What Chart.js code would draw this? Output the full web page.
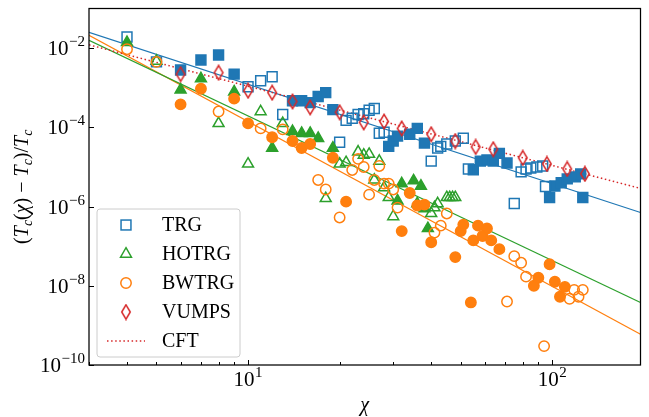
<!DOCTYPE html>
<html>
<head>
<meta charset="utf-8">
<script src="https://cdn.jsdelivr.net/npm/chart.js@4/dist/chart.umd.min.js"></script>
<style>
html,body{margin:0;padding:0;background:#fff;}
#wrap{width:649px;height:417px;}
</style>
</head>
<body>
<div id="wrap"><canvas id="c" width="649" height="417"></canvas></div>
<script>
// ---------------- data ----------------
const trgOpenChi = [4, 5, 10, 11, 12, 13, 20, 21, 22, 23, 24, 25, 26, 27, 28, 40, 42, 43, 45, 48, 51, 53, 75, 79, 82, 85, 89, 93, 95];
const trgOpenVal = [1.9e-2, 4.5e-3, 1.06e-3, 1.5e-3, 1.9e-3, 2.1e-4, 4.2e-5, 1.5e-4, 1.7e-4, 2.1e-4, 2.2e-4, 2.7e-4, 3.0e-4, 7.1e-5, 7.5e-5, 1.4e-5, 3.0e-5, 3.3e-5, 3.8e-5, 4.5e-5, 5.3e-5, 8.9e-6, 1.19e-6, 7.5e-6, 8.9e-6, 9.4e-6, 1.0e-5, 1.06e-5, 3.2e-6];

const trgFilledChi = [6, 7, 8, 9, 14, 15, 16, 17, 18, 19, 29, 30, 31, 34, 36, 38, 55, 58, 61, 64, 67, 71, 98, 102, 107, 112, 119, 124, 126];
const trgFilledVal = [2.8e-3, 5.0e-3, 6.7e-3, 2.2e-3, 4.7e-4, 4.7e-4, 4.2e-4, 6.0e-4, 7.5e-4, 2.8e-4, 3.3e-5, 4.5e-5, 6.0e-5, 6.7e-5, 9.4e-5, 4.0e-5, 8.5e-6, 1.4e-5, 1.5e-5, 1.4e-5, 2.2e-5, 1.26e-5, 1.7e-6, 3.3e-6, 4.0e-6, 5.0e-6, 5.6e-6, 6.7e-6, 1.7e-6];

const hotrgOpenChi = [5, 8, 10, 11, 13, 18, 20, 21, 23, 24, 25, 26, 27, 28, 29, 30, 40, 41, 42, 45, 46, 47, 48];
const hotrgOpenVal = [4.7e-3, 1.26e-4, 1.19e-5, 2.5e-4, 1.26e-4, 1.6e-6, 1.19e-5, 1.3e-5, 2.4e-5, 2.0e-5, 2.1e-5, 4.7e-6, 1.4e-5, 3.0e-6, 1.7e-6, 5.6e-7, 6.7e-7, 9.4e-7, 1.19e-6, 1.7e-6, 1.7e-6, 1.7e-6, 1.7e-6];

const hotrgFilledChi = [4, 6, 7, 9, 12, 14, 15, 16, 17, 19, 31, 32, 35, 36, 37, 38, 39];
const hotrgFilledVal = [1.4e-2, 8.9e-4, 1.7e-3, 7.9e-4, 3.0e-5, 7.9e-5, 7.1e-5, 7.1e-5, 5.3e-5, 3.0e-5, 1.4e-6, 3.8e-6, 4.5e-6, 1.19e-6, 3.3e-6, 8.9e-7, 2.8e-7];

const bwtrgOpenChi = [4, 5, 8, 11, 13, 17, 18, 20, 22, 23, 24, 25, 26, 27, 28, 29, 30, 31, 41, 43, 45, 71, 75, 79, 82, 94, 114, 118, 122, 126];
const bwtrgOpenVal = [9.4e-3, 4.5e-3, 2.5e-4, 9.4e-5, 8.9e-5, 4.7e-6, 2.7e-6, 5.3e-7, 8.4e-6, 1.6e-5, 1.0e-5, 2.0e-6, 4.7e-6, 1.06e-5, 3.8e-6, 3.8e-6, 2.7e-6, 9.4e-7, 2.2e-7, 3.3e-7, 6.7e-7, 4.0e-9, 5.6e-8, 3.8e-8, 1.7e-8, 3.0e-10, 4.7e-9, 7.9e-9, 5.3e-9, 7.9e-9];

const bwtrgFilledChi = [6, 7, 9, 10, 12, 14, 15, 16, 19, 21, 32, 34, 36, 38, 40, 48, 50, 51, 54, 55, 57, 59, 61, 63, 67, 87, 90, 98, 102, 106, 110];
const bwtrgFilledVal = [3.8e-4, 9.4e-4, 5.3e-4, 1.26e-4, 5.6e-5, 4.5e-5, 3.0e-5, 3.8e-5, 1.7e-5, 1.33e-6, 2.4e-7, 2.2e-6, 1.06e-6, 1.12e-6, 1.26e-7, 5.3e-8, 2.4e-7, 3.5e-7, 3.8e-9, 1.4e-7, 3.3e-7, 1.8e-7, 2.8e-7, 1.4e-7, 8.4e-8, 1.0e-8, 1.6e-8, 3.5e-8, 1.26e-8, 5.3e-9, 9.4e-9];

const vumpsChi = [6, 8, 10, 12, 14, 16, 20, 24, 28, 32, 40, 48, 56, 64, 80, 96, 112, 128];
const vumpsVal = [2.2e-3, 2.4e-3, 8.4e-4, 7.5e-4, 4.5e-4, 3.2e-4, 2.4e-4, 1.33e-4, 1.4e-4, 9.4e-5, 6.7e-5, 4.5e-5, 3.2e-5, 2.8e-5, 1.7e-5, 1.19e-5, 8.9e-6, 6.7e-6];

// fitted power laws (end points of straight lines in log-log)
const fitChi   = [3, 195];
const trgFit   = [2.5e-2, 7.1e-7];
const hotrgFit = [1.58e-2, 3.8e-9];
const bwtrgFit = [2.1e-2, 6.0e-10];
const cftFit   = [1.21e-2, 2.87e-6];

// axes: tick values and labels (10^exp)
const xTickValues = [10, 100];
const xTickExps   = ['1', '2'];
const yTickValues = [1e-10, 1e-8, 1e-6, 1e-4, 1e-2];
const yTickExps   = ['\u221210', '\u22128', '\u22126', '\u22124', '\u22122'];
const legendLabels = ['TRG', 'HOTRG', 'BWTRG', 'VUMPS', 'CFT'];

// ---------------- styling ----------------
const COL = {trg:'#1f77b4', hotrg:'#2ca02c', bwtrg:'#ff7f0e', vumps:'#d62728'};
const SERIF = '"Liberation Serif", "DejaVu Serif", serif';

function pts(xs, ys){ return xs.map((x,i)=>({x:x, y:ys[i]})); }
function lineData(ys){ return fitChi.map((x,i)=>({x:x, y:ys[i]})); }

function thinDiamond(color){
  const cv = document.createElement('canvas');
  cv.width = 12; cv.height = 17;
  const c = cv.getContext('2d');
  c.strokeStyle = color; c.lineWidth = 1.5; c.lineJoin = 'miter';
  c.beginPath();
  c.moveTo(6, 1.3); c.lineTo(10.3, 8.5); c.lineTo(6, 15.7); c.lineTo(1.7, 8.5); c.closePath();
  c.stroke();
  return cv;
}
const diamondImg = thinDiamond(COL.vumps);

function markerSet(label, xs, ys, color, style, filled, order, radius){
  return {
    label: label, data: pts(xs, ys), showLine: false, order: order,
    pointStyle: style, pointRadius: radius, pointHoverRadius: radius,
    pointBorderWidth: 1.5, pointBorderColor: color,
    pointBackgroundColor: filled ? color : 'rgba(0,0,0,0)'
  };
}
function fitSet(label, ys, color, dash, order, width){
  return {
    label: label, data: lineData(ys), showLine: true, order: order,
    pointRadius: 0, borderColor: color, borderWidth: width, borderDash: dash,
    backgroundColor: color, fill: false, tension: 0
  };
}

const datasets = [
  markerSet('VUMPS', vumpsChi, vumpsVal, COL.vumps, diamondImg, false, 1, 6),
  markerSet('BWTRG', bwtrgOpenChi, bwtrgOpenVal, COL.bwtrg, 'circle', false, 2, 5.2),
  markerSet('BWTRG filled', bwtrgFilledChi, bwtrgFilledVal, COL.bwtrg, 'circle', true, 2, 5.2),
  markerSet('HOTRG', hotrgOpenChi, hotrgOpenVal, COL.hotrg, 'triangle', false, 3, 6.3),
  markerSet('HOTRG filled', hotrgFilledChi, hotrgFilledVal, COL.hotrg, 'triangle', true, 3, 6.3),
  markerSet('TRG', trgOpenChi, trgOpenVal, COL.trg, 'rect', false, 4, 7),
  markerSet('TRG filled', trgFilledChi, trgFilledVal, COL.trg, 'rect', true, 4, 7),
  fitSet('TRG fit', trgFit, COL.trg, [], 6, 1.2),
  fitSet('HOTRG fit', hotrgFit, COL.hotrg, [], 6, 1.2),
  fitSet('BWTRG fit', bwtrgFit, COL.bwtrg, [], 6, 1.2),
  fitSet('CFT', cftFit, COL.vumps, [1.5, 2.6], 5, 1.5)
];

// ---------------- decorations plugin ----------------
function drawMarker(ctx, kind, x, y, color){
  ctx.save();
  ctx.strokeStyle = color; ctx.lineWidth = 1.5;
  if (kind === 'rect'){
    const s = 7 * Math.SQRT1_2;
    ctx.strokeRect(x - s, y - s, 2*s, 2*s);
  } else if (kind === 'triangle'){
    const r = 6.3;
    ctx.beginPath();
    ctx.moveTo(x, y - r);
    ctx.lineTo(x + r*Math.sin(2*Math.PI/3), y - r*Math.cos(2*Math.PI/3));
    ctx.lineTo(x + r*Math.sin(4*Math.PI/3), y - r*Math.cos(4*Math.PI/3));
    ctx.closePath(); ctx.stroke();
  } else if (kind === 'circle'){
    ctx.beginPath(); ctx.arc(x, y, 5.2, 0, 2*Math.PI); ctx.stroke();
  } else if (kind === 'diamond'){
    ctx.drawImage(diamondImg, x - 6, y - 8.5);
  } else if (kind === 'dotted'){
    ctx.setLineDash([1.5, 2.6]);
    ctx.beginPath(); ctx.moveTo(x - 19, y); ctx.lineTo(x + 19, y); ctx.stroke();
  }
  ctx.restore();
}

const BASE_FONT = '21px ' + SERIF;
const EXP_FONT = '15px ' + SERIF;
function powWidth(ctx, exp){
  ctx.font = BASE_FONT; const w1 = ctx.measureText('10').width;
  ctx.font = EXP_FONT; const w2 = ctx.measureText(exp).width;
  return [w1, w2];
}
function drawPow(ctx, exp, left, baseline){
  const w = powWidth(ctx, exp);
  ctx.font = BASE_FONT; ctx.fillText('10', left, baseline);
  ctx.font = EXP_FONT; ctx.fillText(exp, left + w[0] + 0.5, baseline - 9);
}

const deco = {
  id: 'deco',
  afterDraw(chart){
    const ctx = chart.ctx;
    const a = chart.chartArea;
    const xs = chart.scales.x, ys = chart.scales.y;
    ctx.save();
    // frame
    ctx.strokeStyle = '#000'; ctx.lineWidth = 1.25;
    ctx.strokeRect(a.left, a.top, a.right - a.left, a.bottom - a.top);
    // x ticks (inward)
    ctx.lineWidth = 1;
    for (let d = 1; d <= 100; d *= 10){
      for (let m = 1; m <= 9; m++){
        const v = d*m;
        if (v < xs.min || v > xs.max) continue;
        const px = Math.round(xs.getPixelForValue(v)) + 0.5;
        const len = (m === 1) ? 5 : 3;
        ctx.beginPath(); ctx.moveTo(px, a.bottom); ctx.lineTo(px, a.bottom - len); ctx.stroke();
      }
    }
    // y ticks (inward)
    yTickValues.forEach(v => {
      const py = Math.round(ys.getPixelForValue(v)) + 0.5;
      ctx.beginPath(); ctx.moveTo(a.left, py); ctx.lineTo(a.left + 5, py); ctx.stroke();
    });
    // tick labels
    ctx.fillStyle = '#000'; ctx.textAlign = 'left'; ctx.textBaseline = 'alphabetic';
    yTickValues.forEach((v, i) => {
      const py = ys.getPixelForValue(v);
      const w = powWidth(ctx, yTickExps[i]);
      drawPow(ctx, yTickExps[i], a.left - 4 - (w[0] + w[1] + 0.5), py + 7);
    });
    xTickValues.forEach((v, i) => {
      const px = xs.getPixelForValue(v);
      const w = powWidth(ctx, xTickExps[i]);
      drawPow(ctx, xTickExps[i], px - (w[0] + w[1] + 0.5)/2, a.bottom + 21);
    });
    // x title
    ctx.font = 'italic 20px ' + SERIF;
    ctx.textAlign = 'center';
    ctx.fillText('\u03C7', (a.left + a.right)/2, 411);
    // y title with subscripts
    const segs = [
      ['(', 'n'], ['T', 'i'], ['c', 's'], ['(', 'n'], ['\u03C7', 'i'], [')', 'n'],
      [' \u2212 ', 'n'], ['T', 'i'], ['c', 's'], [')/', 'n'], ['T', 'i'], ['c', 's']
    ];
    const fontOf = k => k === 'n' ? '20px ' + SERIF : (k === 'i' ? 'italic 20px ' + SERIF : 'italic 14px ' + SERIF);
    let total = 0;
    segs.forEach(s => { ctx.font = fontOf(s[1]); total += ctx.measureText(s[0]).width; });
    ctx.translate(28, (a.top + a.bottom)/2);
    ctx.rotate(-Math.PI/2);
    ctx.textAlign = 'left';
    let cx = -total/2;
    segs.forEach(s => {
      ctx.font = fontOf(s[1]);
      ctx.fillText(s[0], cx, s[1] === 's' ? 4 : 0);
      cx += ctx.measureText(s[0]).width;
    });
    ctx.restore();

    // legend
    ctx.save();
    const L = {x: 97, y: 209, w: 143, h: 148, r: 3};
    ctx.beginPath();
    ctx.moveTo(L.x + L.r, L.y);
    ctx.arcTo(L.x + L.w, L.y, L.x + L.w, L.y + L.h, L.r);
    ctx.arcTo(L.x + L.w, L.y + L.h, L.x, L.y + L.h, L.r);
    ctx.arcTo(L.x, L.y + L.h, L.x, L.y, L.r);
    ctx.arcTo(L.x, L.y, L.x + L.w, L.y, L.r);
    ctx.closePath();
    ctx.fillStyle = 'rgba(255,255,255,0.8)'; ctx.fill();
    ctx.strokeStyle = '#cccccc'; ctx.lineWidth = 1; ctx.stroke();
    const kinds = ['rect', 'triangle', 'circle', 'diamond', 'dotted'];
    const cols = [COL.trg, COL.hotrg, COL.bwtrg, COL.vumps, COL.vumps];
    ctx.font = '20px ' + SERIF; ctx.fillStyle = '#000';
    ctx.textAlign = 'left'; ctx.textBaseline = 'middle';
    legendLabels.forEach((t, i) => {
      const yy = 225 + i*29;
      drawMarker(ctx, kinds[i], 126, yy, cols[i]);
      ctx.fillText(t, 162, yy + 1);
    });
    ctx.restore();
  }
};

new Chart(document.getElementById('c'), {
  type: 'scatter',
  data: { datasets: datasets },
  options: {
    responsive: false, animation: false, devicePixelRatio: 1,
    layout: { padding: { left: 0, right: 6, top: 5, bottom: 0 } },
    plugins: { legend: { display: false }, tooltip: { enabled: false } },
    scales: {
      x: {
        type: 'logarithmic', position: 'bottom', min: 3, max: 195,
        grid: { display: false, drawTicks: false }, border: { display: false },
        afterBuildTicks: s => { s.ticks = xTickValues.map(v => ({value: v})); },
        afterFit: s => { s.height = 52; s.paddingLeft = 0; s.paddingRight = 0; },
        ticks: { display: false }
      },
      y: {
        type: 'logarithmic', position: 'left', min: 1e-10, max: 0.1,
        grid: { display: false, drawTicks: false }, border: { display: false },
        afterBuildTicks: s => { s.ticks = yTickValues.map(v => ({value: v})); },
        afterFit: s => { s.width = 89; s.paddingTop = 0; s.paddingBottom = 0; },
        ticks: { display: false }
      }
    }
  },
  plugins: [deco]
});
</script>
</body>
</html>
